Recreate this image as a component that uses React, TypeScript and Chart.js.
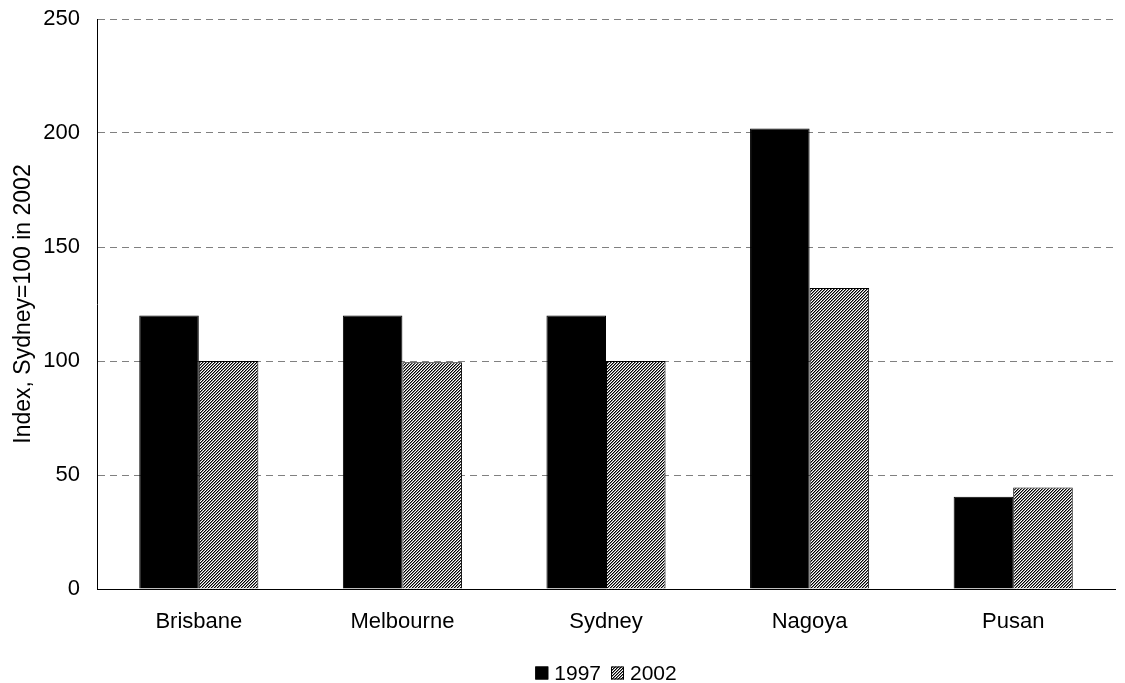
import React, { useEffect, useRef } from "react";
import { Chart, registerables } from "chart.js";

Chart.register(...registerables);

const categories = ["Brisbane", "Melbourne", "Sydney", "Nagoya", "Pusan"];
const series1997 = [120, 120, 120, 202, 40.5];
const series2002 = [100, 99.5, 100, 132, 44.5];
const seriesLabels = ["1997", "2002"];
const yTicks = [0, 50, 100, 150, 200, 250];

const FONT_FAMILY = "'Liberation Sans', Arial, sans-serif";

function makeHatch(): CanvasPattern | string {
  const n = 3;
  const c = document.createElement("canvas");
  c.width = n;
  c.height = n;
  const ctx = c.getContext("2d");
  if (!ctx) return "#888";
  const img = ctx.createImageData(n, n);
  for (let y = 0; y < n; y++) {
    for (let x = 0; x < n; x++) {
      const k = (x + y) % n;
      const v = k === 0 ? 0 : k === 1 ? 128 : 255;
      const i = (y * n + x) * 4;
      img.data[i] = v;
      img.data[i + 1] = v;
      img.data[i + 2] = v;
      img.data[i + 3] = 255;
    }
  }
  ctx.putImageData(img, 0, 0);
  const p = ctx.createPattern(c, "repeat");
  return p || "#888";
}

const legendPlugin = {
  id: "customLegend",
  afterDraw(chart: any) {
    const ctx = chart.ctx;
    const area = chart.chartArea;
    const fontSize = 21;
    ctx.save();
    ctx.font = `${fontSize}px ${FONT_FAMILY}`;
    ctx.textBaseline = "middle";
    ctx.textAlign = "left";
    const box = 13;
    const gap = 6;
    const itemGap = 10;
    const items = chart.data.datasets.map((d: any) => ({
      label: d.label,
      fill: d.backgroundColor,
      w: box + gap + ctx.measureText(d.label).width,
    }));
    const total =
      items.reduce((s: number, it: any) => s + it.w, 0) + itemGap * (items.length - 1);
    let x = (area.left + area.right) / 2 - total / 2;
    const cy = 673;
    items.forEach((it: any) => {
      ctx.fillStyle = it.fill;
      ctx.fillRect(x, cy - box / 2, box, box);
      ctx.strokeStyle = "#000";
      ctx.lineWidth = 1;
      ctx.strokeRect(x + 0.5, cy - box / 2 + 0.5, box - 1, box - 1);
      ctx.fillStyle = "#000";
      ctx.fillText(it.label, x + box + gap, cy + 1);
      x += it.w + itemGap;
    });
    ctx.restore();
  },
};

export default function App() {
  const ref = useRef<HTMLCanvasElement>(null);
  useEffect(() => {
    document.body.style.margin = "0";
    if (!ref.current) return;
    const hatch = makeHatch();
    const font = { family: FONT_FAMILY, size: 22 };
    const chart = new Chart(ref.current, {
      type: "bar",
      data: {
        labels: categories,
        datasets: [
          {
            label: seriesLabels[0],
            data: series1997,
            backgroundColor: "#000000",
            borderColor: "#000000",
            borderWidth: 1,
            categoryPercentage: 0.585,
            barPercentage: 1,
          },
          {
            label: seriesLabels[1],
            data: series2002,
            backgroundColor: hatch as any,
            borderColor: "#000000",
            borderWidth: 1,
            categoryPercentage: 0.585,
            barPercentage: 1,
          },
        ],
      },
      options: {
        animation: false,
        responsive: false,
        layout: { padding: { top: 19, right: 10, left: 0, bottom: 0 } },
        plugins: {
          tooltip: { enabled: false },
          legend: { display: false },
        },
        scales: {
          x: {
            grid: { display: false, drawTicks: false },
            border: { color: "#000", width: 1 },
            ticks: { color: "#000", font, padding: 20 },
            afterFit: (s: any) => {
              s.height = 94;
              s.paddingLeft = 0;
              s.paddingRight = 0;
            },
          },
          y: {
            min: 0,
            max: 250,
            afterBuildTicks: (s: any) => {
              s.ticks = yTicks.map((v) => ({ value: v }));
            },
            grid: {
              color: "#808080",
              drawTicks: false,
              lineWidth: 1,
            },
            border: { color: "#000", width: 1, dash: [7, 5] },
            ticks: { color: "#000", font, padding: 17 },
            title: {
              display: true,
              text: "Index, Sydney=100 in 2002",
              color: "#000",
              font: { family: FONT_FAMILY, size: 23 },
              padding: { top: 10, bottom: 0 },
            },
            afterFit: (s: any) => {
              s.width = 97;
              s.paddingTop = 0;
              s.paddingBottom = 0;
            },
          },
        },
      },
      plugins: [legendPlugin],
    } as any);
    return () => chart.destroy();
  }, []);
  return (
    <div style={{ width: 1125, height: 683 }}>
      <canvas ref={ref} width={1125} height={683} style={{ display: "block" }} />
    </div>
  );
}
